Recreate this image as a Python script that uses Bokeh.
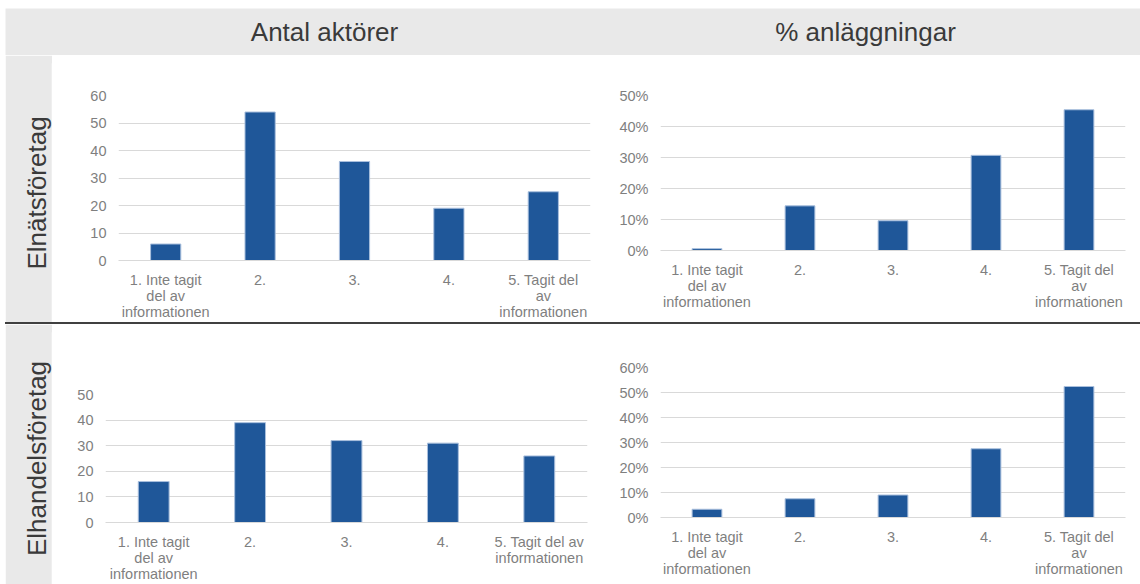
import textwrap
from bokeh.plotting import figure
from bokeh.layouts import column, row
from bokeh.models import (Range1d, FactorRange, Label, NumeralTickFormatter, FixedTicker, Div, Spacer)
from bokeh.embed import file_html
from bokeh.resources import INLINE

# ---- data ----
categories = ["1. Inte tagit del av informationen", "2.", "3.", "4.", "5. Tagit del av informationen"]
natf_antal = [6, 54, 36, 19, 25]
natf_andel = [0.006, 0.144, 0.096, 0.307, 0.454]
handel_antal = [16, 39, 32, 31, 26]
handel_andel = [0.033, 0.075, 0.090, 0.275, 0.524]
yticks_antal_natf = [0, 10, 20, 30, 40, 50, 60]
yticks_andel_natf = [0.0, 0.1, 0.2, 0.3, 0.4, 0.5]
yticks_antal_handel = [0, 10, 20, 30, 40, 50]
yticks_andel_handel = [0.0, 0.1, 0.2, 0.3, 0.4, 0.5, 0.6]
col_titles = ["Antal aktörer", "% anläggningar"]
row_titles = ["Elnätsföretag", "Elhandelsföretag"]

# ---- style ----
FONT = "Liberation Sans"
GRAY_BG = "#E9E9E9"
BAR = "#1F5799"
BAR_EDGE = "#A9BFDD"
GRID = "#D9D9D9"
TICK_TXT = "#7F7F7F"
HEAD_TXT = "#3A3A3A"

SIDE_W = 47
HEAD_H = 47
COL_W = 544
ROW1_H = 267
ROW2_H = 260
LINE_H = 2
INNER_W = SIDE_W + 2 * COL_W


def style_axis(ax):
    ax.major_label_text_font = FONT
    ax.major_label_text_font_size = "14.5px"
    ax.major_label_text_color = TICK_TXT
    ax.major_label_text_line_height = 1.0
    ax.major_tick_line_color = None
    ax.minor_tick_line_color = None


def panel(vals, yticks, pct, w, h, bl, br, bt, bb, wrap, xstand):
    factors = ["\n".join(textwrap.wrap(c, wrap)) for c in categories]
    p = figure(x_range=FactorRange(*factors), y_range=Range1d(yticks[0], yticks[-1]),
               width=w, height=h, output_backend="svg", toolbar_location=None,
               frame_align=False,
               min_border_left=bl, min_border_right=br, min_border_top=bt, min_border_bottom=bb)
    p.vbar(x=factors, top=vals, width=0.32, fill_color=BAR, line_color=BAR_EDGE, line_width=1)
    p.outline_line_color = None
    p.xgrid.grid_line_color = None
    p.ygrid.grid_line_color = GRID
    p.ygrid.grid_line_width = 1
    p.yaxis.ticker = FixedTicker(ticks=yticks)
    if pct:
        p.yaxis.formatter = NumeralTickFormatter(format="0%")
    p.yaxis.axis_line_color = None
    p.yaxis.major_label_standoff = 6
    style_axis(p.yaxis[0])
    xa = p.xaxis[0]
    xa.axis_line_color = GRID
    xa.major_label_standoff = xstand
    style_axis(xa)
    return p


def blank(w, h, color):
    f = figure(width=w, height=h, x_range=Range1d(0, w), y_range=Range1d(0, h),
               output_backend="svg", toolbar_location=None, title=None, frame_align=False,
               x_axis_location=None, y_axis_location=None,
               min_border=0, min_border_left=0, min_border_right=0,
               min_border_top=0, min_border_bottom=0)
    f.grid.grid_line_color = None
    f.outline_line_color = None
    f.background_fill_color = color
    f.border_fill_color = color
    return f


def side(h, text):
    f = figure(width=SIDE_W, height=h, x_range=Range1d(0, 1), y_range=Range1d(0, 1),
               output_backend="svg", toolbar_location=None, title=None, frame_align=False,
               x_axis_location=None, y_axis_location="left",
               min_border_left=SIDE_W - 1, min_border_right=0,
               min_border_top=8, min_border_bottom=0)
    f.grid.grid_line_color = None
    f.outline_line_color = None
    f.background_fill_color = GRAY_BG
    f.border_fill_color = GRAY_BG
    ya = f.yaxis[0]
    ya.ticker = FixedTicker(ticks=[])
    ya.axis_line_color = None
    ya.major_tick_line_color = None
    ya.minor_tick_line_color = None
    ya.axis_label = text
    ya.axis_label_text_font = FONT
    ya.axis_label_text_font_size = "26px"
    ya.axis_label_text_font_style = "normal"
    ya.axis_label_text_color = HEAD_TXT
    ya.axis_label_standoff = 0
    return f


# header
hdr = blank(INNER_W, HEAD_H, GRAY_BG)
for i, t in enumerate(col_titles):
    hdr.add_layout(Label(x=SIDE_W + COL_W * i + COL_W / 2 - 3 * i, y=HEAD_H / 2, x_units="screen", y_units="screen",
                         text=t, text_align="center", text_baseline="middle",
                         text_font=FONT, text_font_size="26px", text_color=HEAD_TXT))

side1 = side(ROW1_H, row_titles[0])
side2 = side(ROW2_H, row_titles[1])

p1 = panel(natf_antal, yticks_antal_natf, False, COL_W, ROW1_H, 66, 6, 40, 57, 13, 5)
p2 = panel(natf_andel, yticks_andel_natf, True, COL_W, ROW1_H, 64, 15, 40, 72, 13, 5)
p3 = panel(handel_antal, yticks_antal_handel, False, COL_W, ROW2_H, 53, 9, 70, 61, 15, 5)
p4 = panel(handel_andel, yticks_andel_handel, True, COL_W, ROW2_H, 64, 15, 43, 67, 13, 5)

sep = Div(width=INNER_W, height=LINE_H, margin=0, styles={"background-color": "#404040"})

inner = column(hdr, row(side1, p1, p2), sep, row(side2, p3, p4))
layout = column(Spacer(width=INNER_W + 5, height=8),
                row(Spacer(width=5, height=HEAD_H + ROW1_H + LINE_H + ROW2_H), inner))

open("out.html", "w").write(file_html(layout, INLINE))
